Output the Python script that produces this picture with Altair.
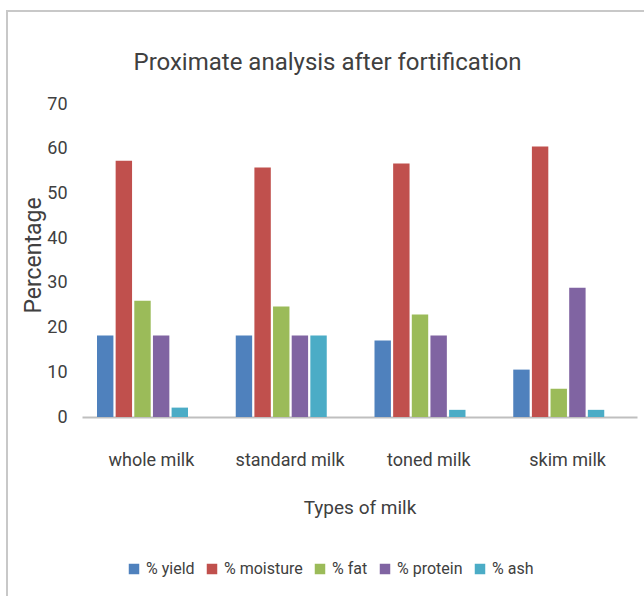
import altair as alt
import pandas as pd

milk_types = ["whole milk", "standard milk", "toned milk", "skim milk"]
series = ["% yield", "% moisture", "% fat", "% protein", "% ash"]
yield_vals = [18.2, 18.2, 17.1, 10.6]
moisture_vals = [57.3, 55.8, 56.7, 60.5]
fat_vals = [26.0, 24.7, 22.9, 6.3]
protein_vals = [18.2, 18.2, 18.2, 28.9]
ash_vals = [2.1, 18.2, 1.6, 1.6]
colors = ["#4F81BD", "#C0504D", "#9BBB59", "#8064A2", "#4BACC6"]

rows = []
for s, vals in zip(series, [yield_vals, moisture_vals, fat_vals, protein_vals, ash_vals]):
    for m, v in zip(milk_types, vals):
        rows.append({"milk": m, "component": s, "value": v})
df = pd.DataFrame(rows)

FONT = "Liberation Sans Narrow, Roboto, sans-serif"

bars = alt.Chart(df).mark_bar().encode(
    x=alt.X("milk:N", sort=milk_types, title="Types of milk",
            scale=alt.Scale(paddingInner=0, paddingOuter=0),
            axis=alt.Axis(labelAngle=0, ticks=False, domainColor="#bfbfbf", domainWidth=2,
                          labelPadding=34, labelFontSize=18, labelColor="#404040",
                          titlePadding=29, titleFontSize=19, titleColor="#404040",
                          titleFontWeight="normal")),
    xOffset=alt.XOffset("component:N", sort=series,
                        scale=alt.Scale(range=[15, 106], paddingInner=0.12, paddingOuter=0)),
    y=alt.Y("value:Q", title="Percentage",
            scale=alt.Scale(domain=[0, 70]),
            axis=alt.Axis(values=[0, 10, 20, 30, 40, 50, 60, 70], grid=False, domain=False, ticks=False,
                          labelPadding=15, labelFontSize=18, labelColor="#404040",
                          titleFontSize=23, titleColor="#404040", titleFontWeight="normal",
                          titleX=-49, titleY=151, titleAngle=-90, titleAlign="center",
                          titleBaseline="middle")),
    color=alt.Color("component:N", sort=series,
                    scale=alt.Scale(domain=series, range=colors),
                    legend=alt.Legend(title=None, orient="none", direction="horizontal",
                                      legendX=44, legendY=457, symbolType="square",
                                      symbolSize=110, symbolStrokeWidth=0, labelFontSize=16,
                                      labelColor="#404040", columnPadding=9, labelOffset=4)),
)

frame = alt.Chart(pd.DataFrame({"a": [0]})).mark_rect(fill=None, stroke="#c8c8c8", strokeWidth=2).encode(
    x=alt.value(-75), x2=alt.value(700), y=alt.value(-93), y2=alt.value(700)
)

chart = alt.layer(frame, bars).properties(
    width=555, height=313,
    padding={"left": 82, "top": 104, "right": 7, "bottom": 179},
    autosize=alt.AutoSizeParams(type="none"),
    title=alt.TitleParams("Proximate analysis after fortification", fontSize=24, font=FONT,
                          color="#404040", fontWeight="normal", dx=-32, offset=-65),
).configure(font=FONT, view=alt.ViewConfig(stroke=None))

chart.save("out.html", embed_options={"renderer": "svg", "actions": False})
